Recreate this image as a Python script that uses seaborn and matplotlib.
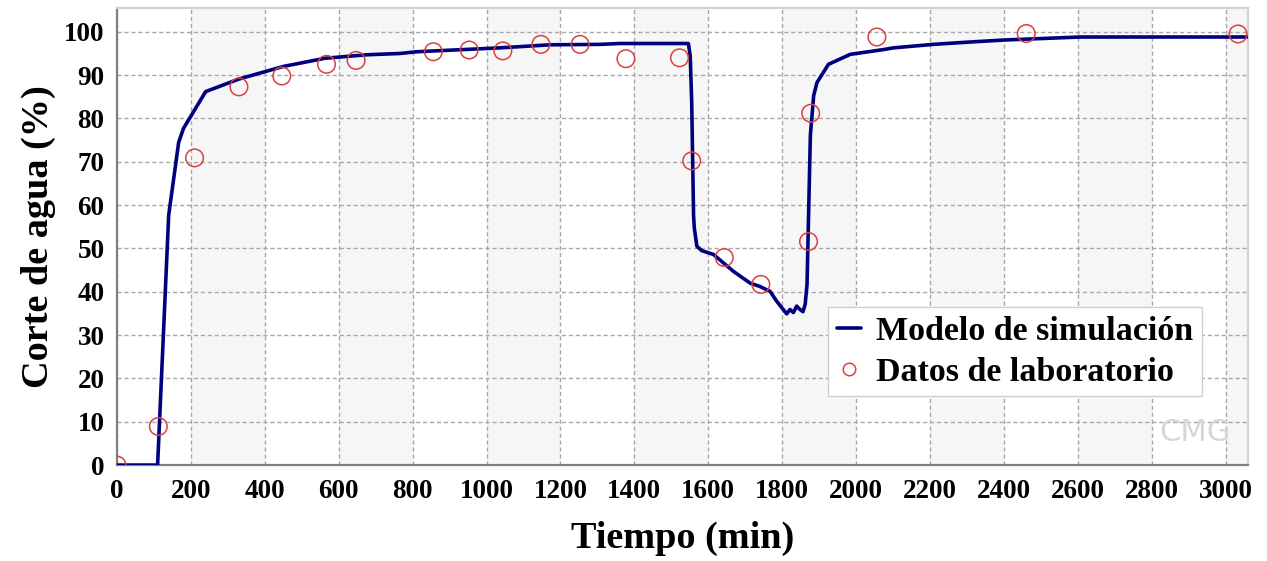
import numpy as np
import pandas as pd
import seaborn as sns
import matplotlib
matplotlib.use("Agg")
import matplotlib.pyplot as plt
from matplotlib.ticker import MultipleLocator, AutoMinorLocator
from matplotlib.lines import Line2D

# ---- data ----
sim_t = [0, 110, 140, 167, 180, 240, 330, 450, 563, 676, 766, 811, 1037, 1172, 1307,
         1361, 1546, 1551, 1555, 1560, 1562, 1569, 1582, 1614, 1668, 1713, 1740, 1767,
         1785, 1812, 1821, 1830, 1839, 1848, 1856, 1862, 1867, 1871, 1876, 1885, 1894,
         1925, 1984, 2074, 2101, 2209, 2299, 2399, 2606, 3057]
sim_y = [0, 0, 57.7, 74.5, 77.7, 86.2, 89.1, 92.0, 93.9, 94.7, 95.0, 95.4, 96.3, 97.0, 97.1,
         97.3, 97.3, 94.4, 83.7, 57.7, 54.7, 50.5, 49.5, 48.6, 44.7, 42.0, 41.2, 40.1,
         37.8, 34.9, 35.9, 35.2, 36.7, 35.9, 35.4, 37.1, 41.7, 57.0, 76.1, 85.3, 88.3,
         92.5, 94.8, 95.9, 96.3, 97.1, 97.6, 98.1, 98.8, 98.8]

lab_t = [0, 112, 210, 330, 446, 567, 647, 856, 953, 1044, 1147, 1253, 1377, 1522, 1555,
         1643, 1742, 1871, 1877, 2056, 2460, 3033]
lab_y = [0, 8.9, 70.9, 87.3, 89.8, 92.5, 93.4, 95.4, 95.8, 95.6, 97.1, 97.1, 93.8, 94.0, 70.2,
         47.9, 41.7, 51.6, 81.2, 98.8, 99.6, 99.5]

x_label = "Tiempo (min)"
y_label = "Corte de agua (%)"
sim_name = "Modelo de simulación"
lab_name = "Datos de laboratorio"

sim_df = pd.DataFrame({"t": sim_t, "y": sim_y})
lab_df = pd.DataFrame({"t": lab_t, "y": lab_y})

sns.set_style("white")
plt.rcParams["font.family"] = ["Liberation Serif", "DejaVu Serif"]
plt.rcParams["font.weight"] = "bold"
plt.rcParams["text.color"] = "black"
plt.rcParams["axes.labelcolor"] = "black"
plt.rcParams["xtick.labelcolor"] = "black"
plt.rcParams["ytick.labelcolor"] = "black"

fig = plt.figure(figsize=(12.67, 5.61), dpi=100)
ax = fig.add_axes([0.0923, 0.171, 0.8927, 0.814])

XMAX, YMAX = 3060, 105.4
ax.set_xlim(0, XMAX)
ax.set_ylim(0, YMAX)

# alternating vertical background bands
for start in range(200, XMAX, 400):
    ax.axvspan(start, min(start + 200, XMAX), color="#f6f6f6", zorder=0, lw=0)

ax.xaxis.set_major_locator(MultipleLocator(200))
ax.xaxis.set_minor_locator(AutoMinorLocator(4))
ax.yaxis.set_major_locator(MultipleLocator(10))
ax.yaxis.set_minor_locator(AutoMinorLocator(3))
ax.grid(True, which="major", color="#a8a8a8", linestyle=(0, (3, 2)), linewidth=1.0, zorder=1)
ax.set_axisbelow(True)

sim_color = "#00007f"
lab_color = "#d9413f"
sns.lineplot(data=sim_df, x="t", y="y", ax=ax, color=sim_color, linewidth=2.6,
             sort=False, estimator=None, zorder=3)
sns.scatterplot(data=lab_df, x="t", y="y", ax=ax, marker="o", s=160,
                facecolors="none", edgecolor=lab_color, linewidth=1.1, zorder=4)

ax.set_xlabel(x_label, fontsize=27.5, fontweight="bold", labelpad=12)
ax.set_ylabel(y_label, fontsize=27.5, fontweight="bold", labelpad=6)

for lab in ax.get_xticklabels() + ax.get_yticklabels():
    lab.set_fontweight("bold")
ax.tick_params(axis="both", which="major", labelsize=19.5, length=6, width=1.2,
               color="#808080", direction="out")
ax.tick_params(axis="both", which="minor", length=4, width=1.0, color="#808080", direction="out")
ax.tick_params(axis="x", pad=4)
ax.tick_params(axis="y", pad=3)

for side in ["left", "bottom"]:
    ax.spines[side].set_color("#808080")
    ax.spines[side].set_linewidth(1.6)
for side in ["top", "right"]:
    ax.spines[side].set_color("#d3d3d3")
    ax.spines[side].set_linewidth(1.6)

handles = [
    Line2D([0], [0], color=sim_color, lw=2.6),
    Line2D([0], [0], color=lab_color, marker="o", linestyle="none", markersize=9,
           markerfacecolor="none", markeredgewidth=1.1),
]
leg = ax.legend(handles, [sim_name, lab_name], loc="upper left",
                bbox_to_anchor=(0.629, 0.346), fontsize=24.5, frameon=True, fancybox=False,
                edgecolor="#cfcfcf", framealpha=1, handlelength=0.7, handletextpad=0.45,
                borderpad=0.25, labelspacing=0.3, borderaxespad=0)
leg.get_frame().set_linewidth(1.0)
for t in leg.get_texts():
    t.set_fontweight("bold")
    t.set_color("black")

ax.text(0.953, 0.072, "CMG", transform=ax.transAxes, fontsize=22, color="#d6d6d6",
        ha="center", va="center", family="DejaVu Sans", fontweight="normal", zorder=2)

fig.savefig("out.png", dpi=100)
